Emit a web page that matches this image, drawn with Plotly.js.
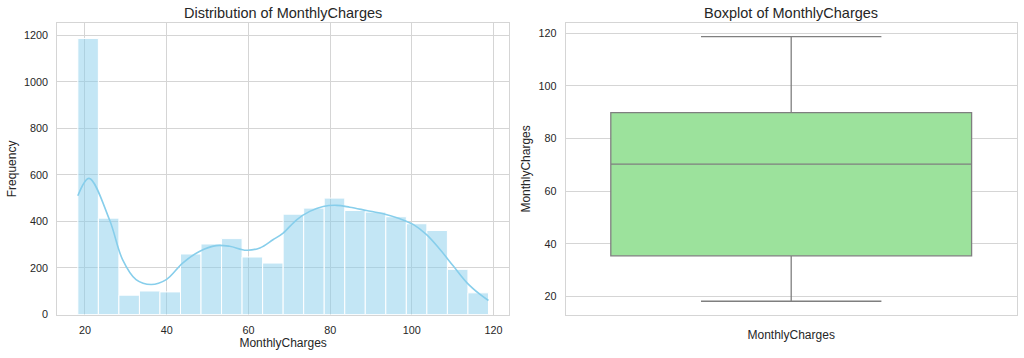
<!DOCTYPE html>
<html>
<head>
<meta charset="utf-8">
<script src="https://cdn.plot.ly/plotly-3.0.1.min.js"></script>
<style>html,body{margin:0;padding:0;background:#fff;}#chart{width:1024px;height:358px;}</style>
</head>
<body>
<div id="chart"></div>
<script>
// Histogram of MonthlyCharges (20 bins between min and max)
const chargeMin = 18.25;
const chargeMax = 118.75;
const binCounts = [1186, 414, 83, 101, 97, 260, 303, 326, 247, 221, 431, 457, 500, 447, 440, 420, 390, 361, 194, 93];

// KDE curve (scaled to counts)
const kdeX = [18.25, 21.0, 26.0, 29.2, 32.5, 36.2, 39.9, 43.9, 48.0, 52.1, 55.4, 59.5, 62.8, 66.0, 68.5, 71.8, 75.0, 78.3, 81.6, 84.8, 88.9, 93.0, 97.1, 100.4, 103.6, 106.9, 110.2, 113.5, 116.7, 118.75];
const kdeY = [510, 585, 407, 236, 150, 129, 150, 221, 271, 296, 293, 276, 286, 321, 350, 407, 443, 464, 469, 461, 447, 433, 411, 386, 343, 279, 207, 136, 86, 60];

// Box plot summary
const boxCategory = ["MonthlyCharges"];
const boxQ1 = [35.5];
const boxMedian = [70.35];
const boxQ3 = [89.85];
const boxLower = [18.25];
const boxUpper = [118.75];

const nBins = binCounts.length;
const binWidth = (chargeMax - chargeMin) / nBins;
const binCenters = binCounts.map((_, i) => chargeMin + binWidth * (i + 0.5));

const txt = '#262626';
const gridC = '#d5d5d5';
const fam = 'Liberation Sans, Arial, sans-serif';
const font = {family: fam, size: 10.8, color: txt};
const labFont = {family: fam, size: 12, color: txt};
const titleFont = {family: fam, size: 14.5, color: txt};

const traces = [
  {
    type: 'bar', x: binCenters, y: binCounts, width: binWidth,
    marker: {color: 'rgba(135,206,235,0.5)', line: {color: '#ffffff', width: 1}},
    xaxis: 'x', yaxis: 'y', hoverinfo: 'skip'
  },
  {
    type: 'scatter', mode: 'lines', x: kdeX, y: kdeY,
    line: {color: '#87CEEB', width: 1.6, shape: 'spline', smoothing: 1},
    xaxis: 'x', yaxis: 'y', hoverinfo: 'skip'
  },
  {
    type: 'box', x: boxCategory, q1: boxQ1, median: boxMedian, q3: boxQ3,
    lowerfence: boxLower, upperfence: boxUpper,
    fillcolor: '#9ce29c', line: {color: '#7f7f7f', width: 1.3},
    width: 0.8, whiskerwidth: 0.5, boxpoints: false,
    xaxis: 'x2', yaxis: 'y2', hoverinfo: 'skip'
  }
];

const yTop = 1 - 23.3 / 358, yBot = 1 - 314.5 / 358;

const axisCommon = {
  showline: true, mirror: true, linecolor: gridC, linewidth: 1,
  gridcolor: gridC, gridwidth: 1, zeroline: false,
  ticks: 'outside', ticklen: 6, tickcolor: 'rgba(0,0,0,0)',
  tickfont: font
};

const layout = {
  width: 1024, height: 358,
  margin: {l: 0, r: 0, t: 0, b: 0},
  paper_bgcolor: '#ffffff', plot_bgcolor: '#ffffff',
  showlegend: false, font: font, bargap: 0,
  xaxis: Object.assign({}, axisCommon, {
    domain: [57.3 / 1024, 509 / 1024], range: [13.225, 123.775],
    tickvals: [20, 40, 60, 80, 100, 120], anchor: 'y',
    title: {text: 'MonthlyCharges', font: labFont, standoff: 3}
  }),
  yaxis: Object.assign({}, axisCommon, {
    domain: [yBot, yTop], range: [0, 1251],
    tickvals: [0, 200, 400, 600, 800, 1000, 1200], anchor: 'x',
    title: {text: 'Frequency', font: labFont, standoff: 4}
  }),
  xaxis2: Object.assign({}, axisCommon, {
    domain: [565.7 / 1024, 1016.7 / 1024], range: [-0.5, 0.5],
    type: 'category', showgrid: false, anchor: 'y2', ticklen: 9,
    tickfont: labFont
  }),
  yaxis2: Object.assign({}, axisCommon, {
    domain: [yBot, yTop], range: [13.225, 123.775],
    tickvals: [20, 40, 60, 80, 100, 120], anchor: 'x2',
    title: {text: 'MonthlyCharges', font: labFont, standoff: 5}
  }),
  annotations: [
    {text: 'Distribution of MonthlyCharges', xref: 'paper', yref: 'paper',
     x: (57.3 + 509) / 2 / 1024, y: 1 - 13 / 358, xanchor: 'center', yanchor: 'middle',
     showarrow: false, font: titleFont},
    {text: 'Boxplot of MonthlyCharges', xref: 'paper', yref: 'paper',
     x: (565.7 + 1016.7) / 2 / 1024, y: 1 - 13 / 358, xanchor: 'center', yanchor: 'middle',
     showarrow: false, font: titleFont}
  ]
};

Plotly.newPlot('chart', traces, layout, {staticPlot: true, displayModeBar: false});
</script>
</body>
</html>
